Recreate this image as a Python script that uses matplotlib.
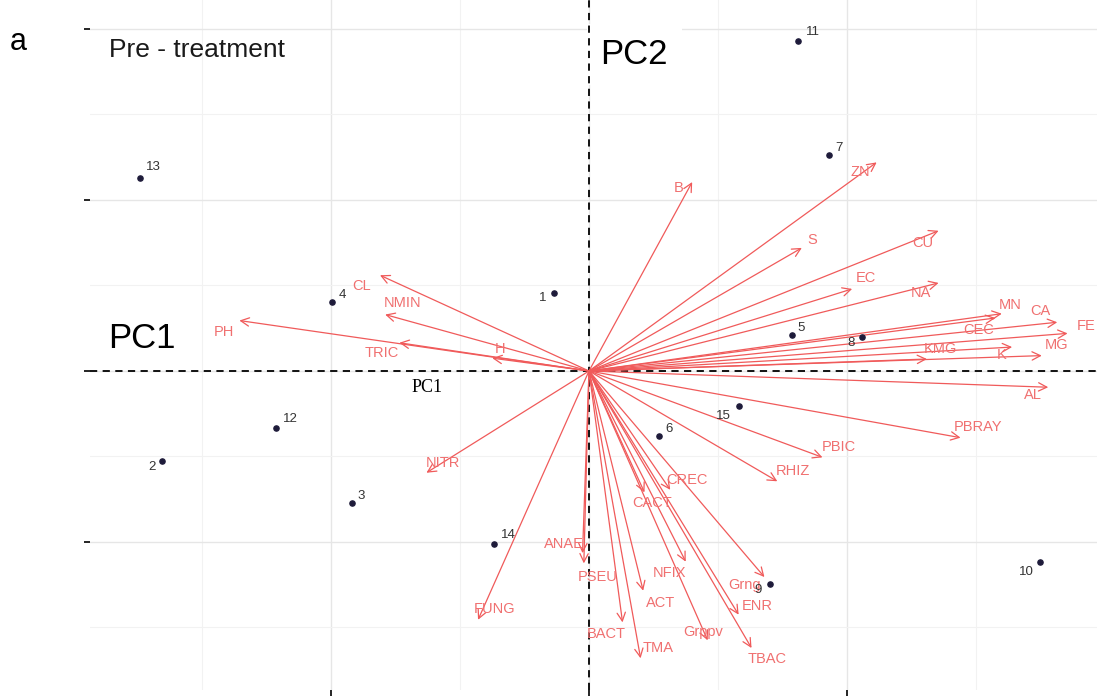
import matplotlib
matplotlib.use("Agg")
from matplotlib import pyplot as plt

# sample scores (PC1, PC2)
sample_ids = ["1", "2", "3", "4", "5", "6", "7", "8", "9", "10", "11", "12", "13", "14", "15"]
sample_pc1 = [-0.27, -3.31, -1.84, -1.99, 1.57, 0.54, 1.86, 2.12, 1.40, 3.50, 1.62, -2.43, -3.48, -0.74, 1.16]
sample_pc2 = [0.91, -1.05, -1.54, 0.81, 0.42, -0.76, 2.53, 0.40, -2.49, -2.23, 3.86, -0.67, 2.26, -2.02, -0.41]

# variable loadings (arrow tips)
var_names = ["B", "ZN", "S", "CU", "EC", "NA", "MN", "CEC", "CA", "FE", "MG", "K", "KMG", "AL",
             "PBRAY", "PBIC", "RHIZ", "CREC", "CACT", "NFIX", "ENR", "Grng", "TBAC", "Grppv",
             "ACT", "BACT", "TMA", "PSEU", "ANAE", "FUNG", "NITR", "CL", "NMIN", "PH", "TRIC", "H"]
var_pc1 = [0.80, 2.23, 1.65, 2.71, 2.04, 2.71, 3.20, 3.15, 3.63, 3.71, 3.51, 3.28, 2.62, 3.56,
           2.88, 1.81, 1.46, 0.63, 0.43, 0.75, 1.16, 1.36, 1.26, 0.92,
           0.42, 0.26, 0.40, -0.04, -0.05, -0.86, -1.26, -1.62, -1.58, -2.71, -1.47, -0.75]
var_pc2 = [2.21, 2.44, 1.44, 1.64, 0.96, 1.03, 0.67, 0.62, 0.57, 0.44, 0.18, 0.28, 0.14, -0.19,
           -0.78, -1.01, -1.29, -1.39, -1.42, -2.23, -2.85, -2.41, -3.24, -3.15,
           -2.57, -2.94, -3.36, -2.25, -2.13, -2.91, -1.19, 1.12, 0.66, 0.59, 0.33, 0.15]

# where each text sits relative to its mark, in pixels
sample_label_offset = {
    "1": (-11, -5), "2": (-10, -6), "8": (-11, -6), "9": (-12, -6), "10": (-14, -10), "15": (-15, -10),
    "13": (13, 11), "11": (15, 9), "12": (15, 9), "14": (15, 9),
}
var_label_offset = {
    "B": (-14, -6), "ZN": (-16, -10), "S": (10, 8), "CU": (-16, -12), "EC": (14, 11), "NA": (-18, -10),
    "MN": (8, 9), "CEC": (-17, -12), "CA": (-17, 11), "FE": (19, 7), "MG": (15, 11), "K": (-10, -8),
    "KMG": (13, 10), "AL": (-15, -8), "PBRAY": (17, 11), "PBIC": (16, 10), "RHIZ": (16, 10),
    "CREC": (17, 10), "CACT": (8, -11), "NFIX": (-16, -11), "ENR": (19, 9), "Grng": (-20, -8),
    "TBAC": (16, -11), "Grppv": (-4, 8), "ACT": (17, -12), "BACT": (-16, -12), "TMA": (18, 10),
    "PSEU": (14, -14), "ANAE": (-19, 9), "FUNG": (17, 11), "NITR": (16, 10), "CL": (-18, -11),
    "NMIN": (17, 12), "PH": (-15, -11), "TRIC": (-18, -10), "H": (8, 9),
}

ARROW_COL = "#F05A5A"
LABEL_COL = "#F07070"


def draw_biplot():
    fig = plt.figure(figsize=(10.97, 6.99), dpi=100)
    ax = fig.add_axes([90 / 1097, 9 / 699, 1 - 90 / 1097, 690 / 699])

    ax.set_xlim(-3.868, 3.938)
    ax.set_ylim(-3.731, 4.339)
    for s in ax.spines.values():
        s.set_visible(False)

    # grid, ggplot minimal style
    ax.set_xticks([-2, 0, 2])
    ax.set_yticks([-2, 0, 2, 4])
    ax.set_xticks([-3, -1, 1, 3], minor=True)
    ax.set_yticks([-3, -1, 1, 3], minor=True)
    ax.set_xticklabels([])
    ax.set_yticklabels([])
    ax.tick_params(which="major", length=4, width=1.2, color="black")
    ax.tick_params(which="minor", length=0)
    ax.set_axisbelow(True)
    ax.grid(which="major", color="#E6E6E6", lw=1.0)
    ax.grid(which="minor", color="#F2F2F2", lw=0.8)

    ax.axhline(0, color="black", lw=1.3, ls=(0, (4, 3)), zorder=2.5)
    ax.axvline(0, color="black", lw=1.3, ls=(0, (4, 3)), zorder=2.5)

    # loadings
    for name, x, y in zip(var_names, var_pc1, var_pc2):
        ax.annotate("", xy=(x, y), xytext=(0, 0),
                    arrowprops=dict(arrowstyle="->,head_length=0.6,head_width=0.3", color=ARROW_COL,
                                    lw=0.9, shrinkA=0, shrinkB=0, mutation_scale=10), zorder=3)
        dx, dy = var_label_offset[name]
        ax.annotate(name, xy=(x, y), xytext=(dx, dy), textcoords="offset pixels",
                    ha="center", va="center", fontsize=10.5, color=LABEL_COL,
                    family="Liberation Sans", zorder=4)

    # scores
    ax.scatter(sample_pc1, sample_pc2, s=14, color="#1E1B3A", zorder=5)
    for sid, x, y in zip(sample_ids, sample_pc1, sample_pc2):
        dx, dy = sample_label_offset.get(sid, (10, 7))
        ax.annotate(sid, xy=(x, y), xytext=(dx, dy), textcoords="offset pixels",
                    ha="center", va="center", fontsize=9.5, color="#333333",
                    family="Liberation Sans", zorder=5)

    ax.text(0.019, 0.927, "Pre - treatment", transform=ax.transAxes, fontsize=19,
            color="#1A1A1A", family="Liberation Sans", ha="left", va="center")
    ax.text(0.507, 0.921, "PC2", transform=ax.transAxes, fontsize=25, color="black",
            family="Liberation Sans", ha="left", va="center", zorder=1.5,
            bbox=dict(facecolor="white", edgecolor="none", boxstyle="square,pad=0.4"))
    ax.text(0.018, 0.509, "PC1", transform=ax.transAxes, fontsize=25, color="black",
            family="Liberation Sans", ha="left", va="center", zorder=1.5)
    ax.text(0.319, 0.438, "PC1", transform=ax.transAxes, fontsize=13, color="black",
            family="Liberation Serif", ha="left", va="center")

    fig.text(18 / 1097, 1 - 42 / 699, "a", fontsize=22, color="black",
             family="Liberation Sans", ha="center", va="center")

    plt.savefig("out.png", dpi=100)
    plt.close()


draw_biplot()
